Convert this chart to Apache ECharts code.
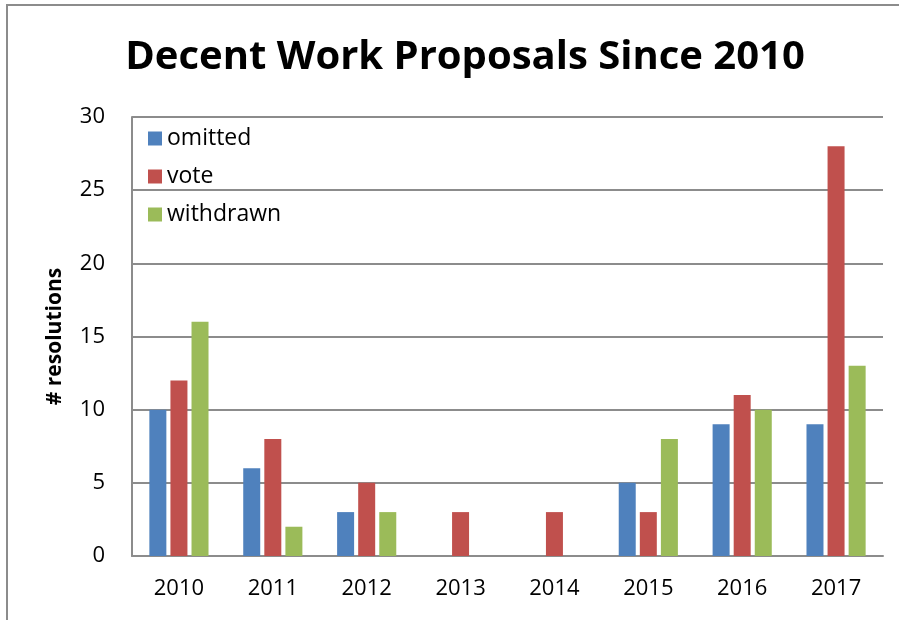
<!DOCTYPE html>
<html><head><meta charset="utf-8">
<script src="https://cdn.jsdelivr.net/npm/echarts@6/dist/echarts.min.js"></script>
<style>html,body{margin:0;padding:0;background:#fff}#c{width:899px;height:620px}</style>
</head><body><div id="c"></div>
<script>
const categories = ['2010','2011','2012','2013','2014','2015','2016','2017'];
const omitted = [10, 6, 3, 0, 0, 5, 9, 9];
const vote = [12, 8, 5, 3, 3, 3, 11, 28];
const withdrawn = [16, 2, 3, 0, 0, 8, 10, 13];
const yTicks = [0, 5, 10, 15, 20, 25, 30];

const font = '"Open Sans", "Noto Sans", sans-serif';
const chart = echarts.init(document.getElementById('c'), null, {renderer: 'canvas'});
chart.setOption({
  animation: false,
  backgroundColor: '#fff',
  graphic: [{type: 'rect', shape: {x: 7, y: 5, width: 1000, height: 1000}, style: {fill: 'none', stroke: '#8c8c8c', lineWidth: 2}}],
  title: {text: 'Decent Work Proposals Since 2010', left: 460, textAlign: 'center', top: 33,
    textStyle: {fontFamily: font, fontWeight: 'bold', fontSize: 40, color: '#000'}},
  legend: {orient: 'vertical', left: 143, top: 122, itemWidth: 14, itemHeight: 14, itemGap: 15,
    icon: 'rect', textStyle: {fontFamily: font, fontSize: 23, color: '#000', padding: [0,0,0,0]},
    data: ['omitted', 'vote', 'withdrawn']},
  grid: {left: 132, right: 16, top: 117, bottom: 64, containLabel: false},
  xAxis: {type: 'category', data: categories,
    axisLine: {lineStyle: {color: '#8c8c8c', width: 2}}, axisTick: {show: false},
    axisLabel: {fontFamily: font, fontSize: 22, color: '#000', margin: 22}},
  yAxis: {type: 'value', min: yTicks[0], max: yTicks[yTicks.length-1], interval: 5,
    name: '# resolutions', nameLocation: 'middle', nameGap: 66, nameRotate: 90,
    nameTextStyle: {fontFamily: font, fontWeight: 'bold', fontSize: 21, color: '#000'},
    axisLine: {show: true, lineStyle: {color: '#8c8c8c', width: 2}}, axisTick: {show: false},
    axisLabel: {fontFamily: font, fontSize: 22, color: '#000', margin: 27},
    splitLine: {lineStyle: {color: '#8c8c8c', width: 2}}},
  series: [
    {name: 'omitted', type: 'bar', data: omitted, barWidth: 17, barGap: '24%', itemStyle: {color: '#4F81BD'}},
    {name: 'vote', type: 'bar', data: vote, barWidth: 17, barGap: '24%', itemStyle: {color: '#C0504D'}},
    {name: 'withdrawn', type: 'bar', data: withdrawn, barWidth: 17, barGap: '24%', itemStyle: {color: '#9BBB59'}}
  ]
});
</script></body></html>
